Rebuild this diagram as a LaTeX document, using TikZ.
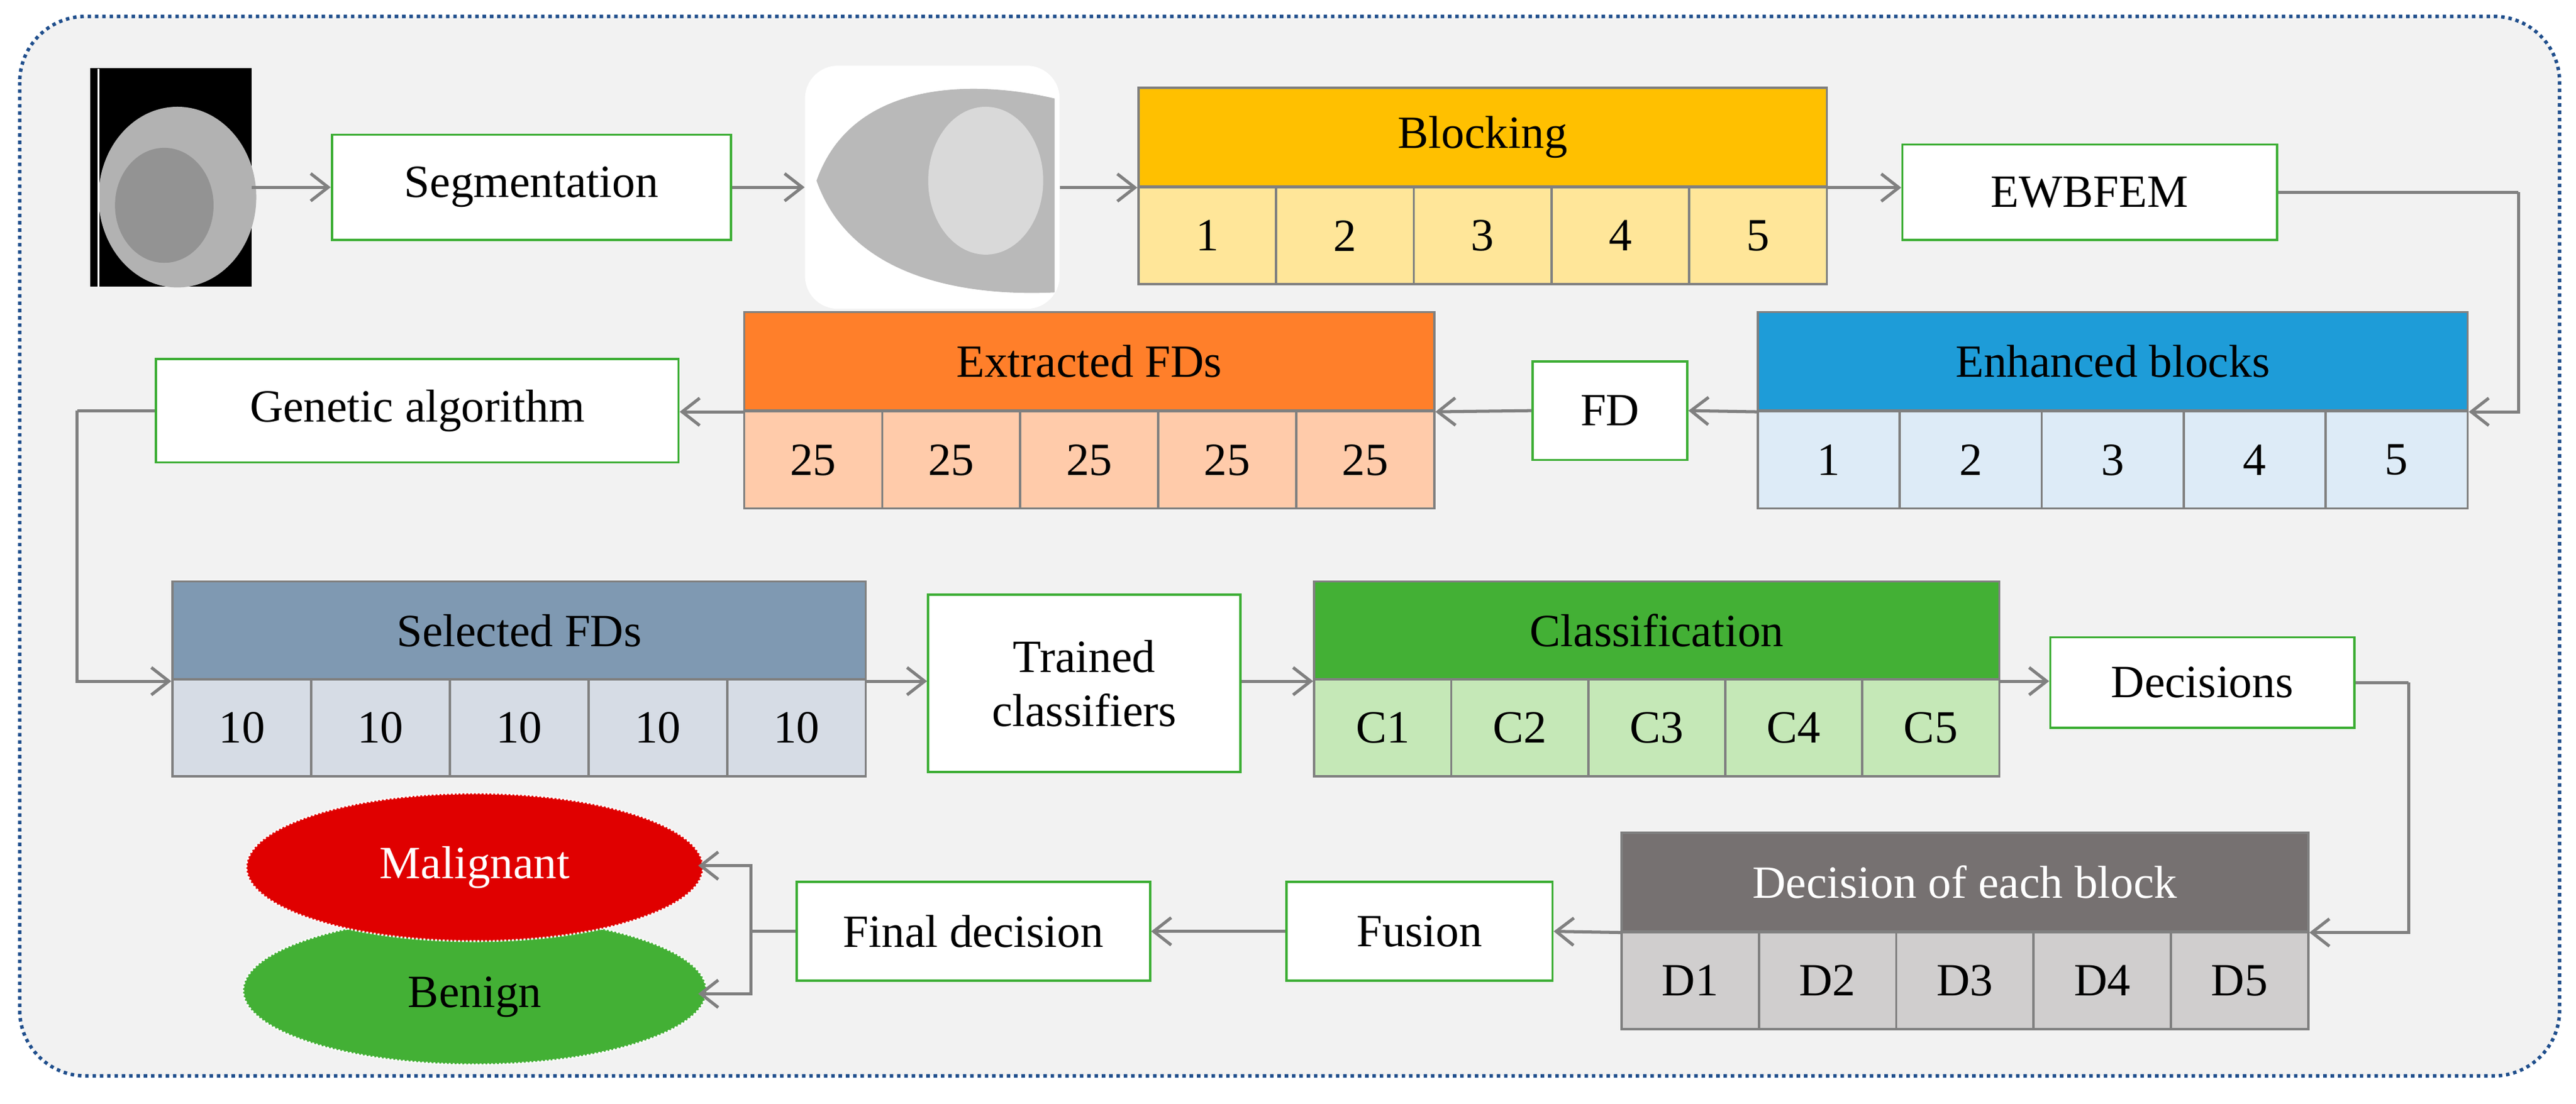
\documentclass[tikz,border=0pt]{standalone}
\usepackage{fontspec}
\setmainfont{Liberation Serif}
\usetikzlibrary{arrows.meta,shapes.geometric,positioning,calc}
\definecolor{framebg}{HTML}{F2F2F2}
\definecolor{framedot}{HTML}{1F4E8C}
\definecolor{linegray}{HTML}{808080}
\definecolor{boxgreen}{HTML}{3DAE35}
\definecolor{blkhead}{HTML}{FFC000}
\definecolor{blkrow}{HTML}{FFE699}
\definecolor{enhhead}{HTML}{1E9CD8}
\definecolor{enhrow}{HTML}{DDEBF7}
\definecolor{exthead}{HTML}{FF7F2A}
\definecolor{extrow}{HTML}{FFCBAA}
\definecolor{selhead}{HTML}{7F99B2}
\definecolor{selrow}{HTML}{D6DCE5}
\definecolor{clshead}{HTML}{43B035}
\definecolor{clsrow}{HTML}{C5E8B7}
\definecolor{dechead}{HTML}{767171}
\definecolor{decrow}{HTML}{D0CECE}
\definecolor{malred}{HTML}{E00000}

\newcommand{\blocktab}[9]{%
  \node[tabhead,#6,minimum width=#3*0.3mm] (#1) at ({#2+#3/2},#4) {#8};
  \foreach \t [count=\i] in {#9}
    \node[tabcell,fill=#7,minimum width=#3/5*0.3mm] (#1-\i) at ({#2+#3/5*(\i-0.5)},#5) {\t};
}

\begin{document}
\begin{tikzpicture}[x=0.3mm,y=-0.3mm,
    font=\fontsize{24}{28}\selectfont,
    stage/.style={rectangle, draw=boxgreen, line width=1.2pt, fill=white, align=center, inner sep=2pt},
    tabhead/.style={rectangle, draw=linegray, line width=1.2pt, minimum height=60*0.3mm, inner sep=0pt},
    tabcell/.style={rectangle, draw=linegray, line width=1.2pt, minimum height=59*0.3mm, inner sep=0pt},
    link/.style={-{Straight Barb[length=3.2mm,width=5mm]}, draw=linegray, line width=1.6pt},
    wire/.style={draw=linegray, line width=1.6pt},
    outcome/.style={ellipse, draw=white, densely dotted, line width=1pt, minimum width=278*0.3mm, minimum height=90*0.3mm}
  ]
  \useasboundingbox (0,0) rectangle (1568,672);
  % frame
  \draw[framedot, fill=framebg, line width=1.8pt, dotted, rounded corners=12mm] (12,10) rectangle (1558,655);

  % input mammogram
  \node[fill=black, minimum width=98*0.3mm, minimum height=133*0.3mm, inner sep=0] (mammo) at (104,108) {};
  \fill[gray!60] (108,120) ellipse (48 and 55);
  \fill[gray!85] (100,125) ellipse (30 and 35);
  \draw[white, line width=1pt] (60,42) -- (60,175);
  \node[stage, minimum width=243*0.3mm, minimum height=64*0.3mm] (seg) at (323.5,114) {Segmentation};
  % segmented breast
  \node[fill=white, rounded corners=6mm, minimum width=155*0.3mm, minimum height=148*0.3mm, inner sep=0] (breast) at (567.5,114) {};
  \fill[gray!55] (497,110) .. controls (520,45) and (600,50) .. (642,60) -- (642,178) .. controls (600,180) and (520,175) .. (497,110) -- cycle;
  \fill[gray!30] (600,110) ellipse (35 and 45);

  \blocktab{blk}{693}{419}{83.5}{143.5}{fill=blkhead}{blkrow}{Blocking}{1,2,3,4,5}
  \node[stage, minimum width=228*0.3mm, minimum height=58*0.3mm] (ewb) at (1272,117) {EWBFEM};
  \blocktab{enh}{1070}{432}{220}{280}{fill=enhhead}{enhrow}{Enhanced blocks}{1,2,3,4,5}
  \node[stage, minimum width=94*0.3mm, minimum height=60*0.3mm] (fd) at (980,250) {FD};
  \blocktab{ext}{453}{420}{220}{280}{fill=exthead}{extrow}{Extracted FDs}{25,25,25,25,25}
  \node[stage, minimum width=318*0.3mm, minimum height=63*0.3mm] (ga) at (254,250) {Genetic algorithm};
  \blocktab{sel}{105}{422}{384}{443}{fill=selhead}{selrow}{Selected FDs}{10,10,10,10,10}
  \node[stage, minimum width=190*0.3mm, minimum height=108*0.3mm] (trn) at (660,416) {Trained\\classifiers};
  \blocktab{cls}{800}{417}{384}{443}{fill=clshead}{clsrow}{Classification}{C1,C2,C3,C4,C5}
  \node[stage, minimum width=185*0.3mm, minimum height=55*0.3mm] (dcs) at (1340.5,415.5) {Decisions};
  \blocktab{dec}{987}{418}{537}{597}{fill=dechead,text=white}{decrow}{Decision of each block}{D1,D2,D3,D4,D5}
  \node[stage, minimum width=162*0.3mm, minimum height=60*0.3mm] (fus) at (864,567) {Fusion};
  \node[stage, minimum width=215*0.3mm, minimum height=60*0.3mm] (fin) at (592.5,567) {Final decision};

  % outcomes
  \node[outcome, fill=clshead, minimum width=282*0.3mm] (ben) at (289,603) {};
  \node[outcome, fill=malred] (mal) at (289,528) {};
  \node[text=white] at (mal) {Malignant};
  \node at ($(ben)+(0,4)$) {Benign};

  % connectors
  \draw[link] (mammo.east |- seg.west) -- (seg.west);
  \draw[link] (seg.east) -- (breast.west |- seg.east);
  \draw[link] (breast.east |- blk.south west) -- (blk.south west);
  \draw[link] (blk.south east) -- (ewb.west |- blk.south east);
  \draw[wire] (ewb.east) -- (1533,117) coordinate (c1);
  \draw[link] (c1) |- (enh.south east);
  \draw[link] (enh.south west) -- (fd.east);
  \draw[link] (fd.west) -- (ext.south east);
  \draw[link] (ext.south west) -- (ga.east |- ext.south west);
  \draw[wire] (ga.west) -- (47,250) coordinate (c2);
  \draw[link] (c2) |- (sel.south west);
  \draw[link] (sel.south east) -- (trn.west |- sel.south east);
  \draw[link] (trn.east |- cls.south west) -- (cls.south west);
  \draw[link] (cls.south east) -- (dcs.west |- cls.south east);
  \draw[wire] (dcs.east) -- (1466,415.5) coordinate (c3);
  \draw[link] (c3) |- (dec.south east);
  \draw[link] (dec.south west) -- (fus.east);
  \draw[link] (fus.west) -- (fin.east);
  \draw[wire] (fin.west) -- (457,567) coordinate (c4);
  \draw[link] (c4) -- (457,527) -- (425,527) coordinate (m1);
  \draw[link] (c4) -- (457,605) -- (425,605) coordinate (b1);
\end{tikzpicture}
\end{document}
